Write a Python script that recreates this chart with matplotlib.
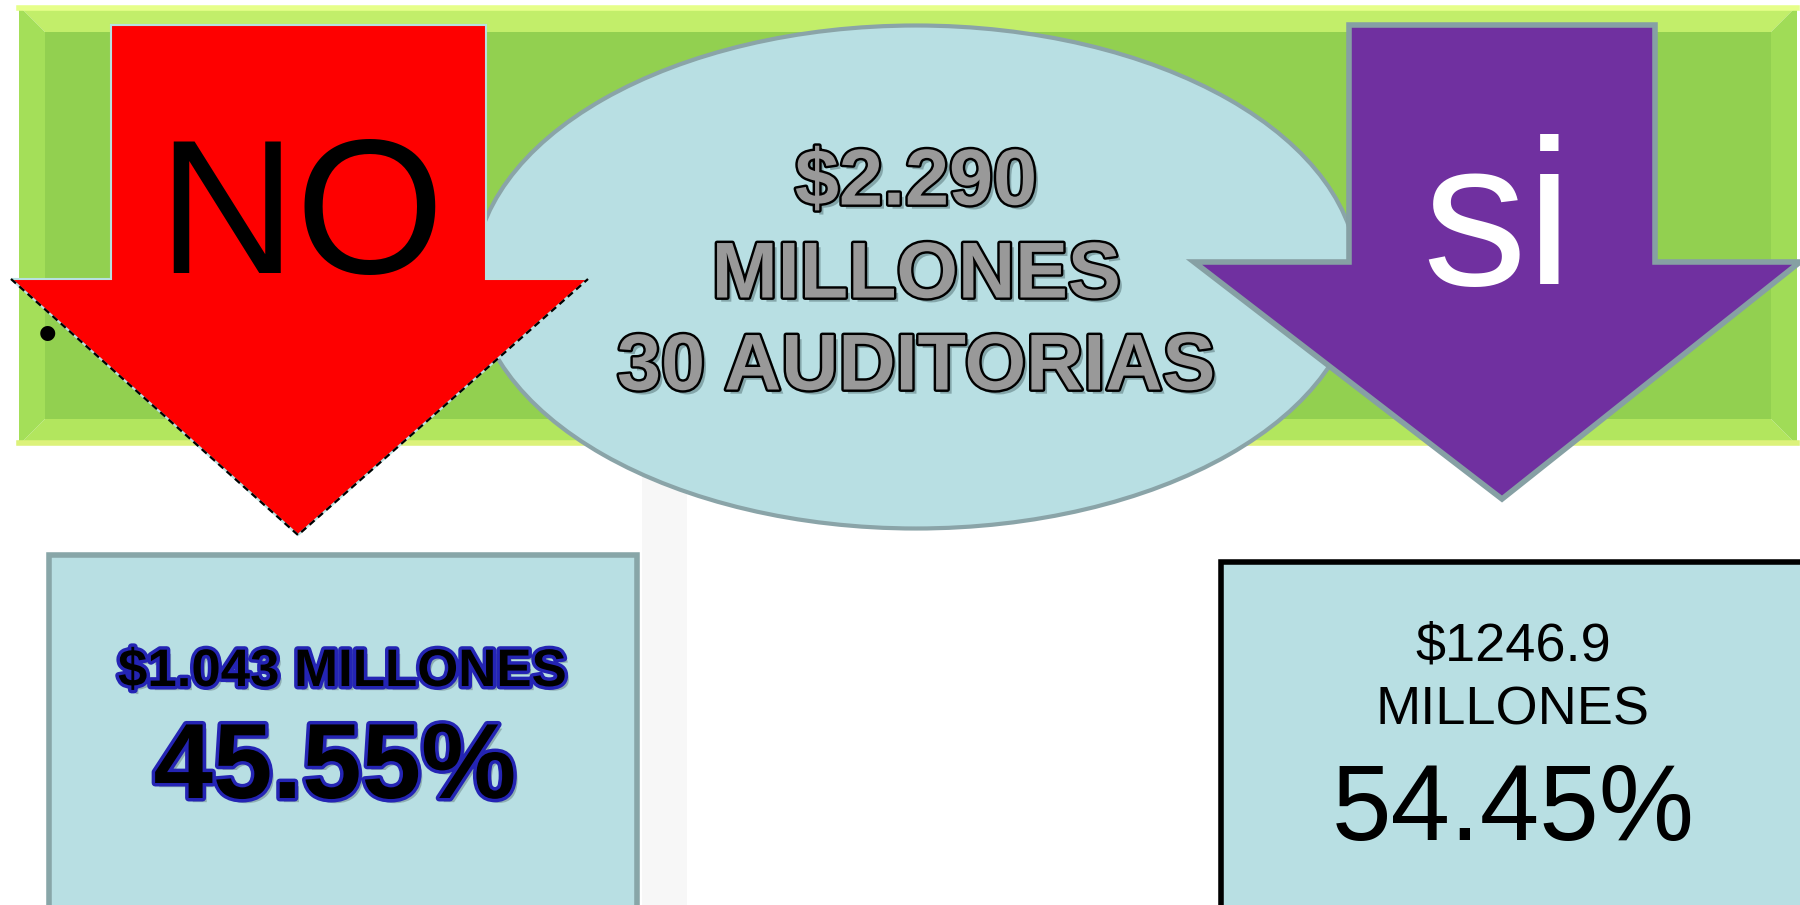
import matplotlib
matplotlib.use("Agg")
import matplotlib.pyplot as plt
from matplotlib.patches import Polygon, Ellipse, Rectangle
import matplotlib.patheffects as pe

plt.rcParams['font.family'] = ['Liberation Sans', 'DejaVu Sans']

# ---- content ----
total_lines = ["$2.290", "MILLONES", "30 AUDITORIAS"]
labels = ["NO", "si"]
no_amount = "$1.043 MILLONES"
no_pct = "45.55%"
si_amount_lines = ["$1246.9", "MILLONES"]
si_pct = "54.45%"

W, H = 1800, 905
fig = plt.figure(figsize=(18, 9.05), dpi=100)
ax = fig.add_axes([0, 0, 1, 1])
ax.set_xlim(0, W)
ax.set_ylim(H, 0)
ax.axis('off')
fig.patch.set_facecolor('white')

# faint shadow on background
ax.add_patch(Rectangle((642, 470), 45, 435, facecolor='#f7f7f7', edgecolor='none', zorder=0))

# ---- green bevel bar ----
x0, x1, y0, y1 = 19, 1797, 6, 445
b = 26
ax.add_patch(Polygon([(x0, y0), (x1, y0), (x1 - b, y0 + b), (x0 + b, y0 + b)],
                     facecolor='#c2ee6a', edgecolor='none', zorder=1))
ax.add_patch(Polygon([(x0, y1), (x1, y1), (x1 - b, y1 - b), (x0 + b, y1 - b)],
                     facecolor='#b2e65e', edgecolor='none', zorder=1))
ax.add_patch(Polygon([(x0, y0), (x0 + b, y0 + b), (x0 + b, y1 - b), (x0, y1)],
                     facecolor='#a4df59', edgecolor='none', zorder=1))
ax.add_patch(Polygon([(x1, y0), (x1 - b, y0 + b), (x1 - b, y1 - b), (x1, y1)],
                     facecolor='#a0dc57', edgecolor='none', zorder=1))
ax.add_patch(Rectangle((x0 + b, y0 + b), x1 - x0 - 2 * b, y1 - y0 - 2 * b,
                       facecolor='#92d050', edgecolor='none', zorder=1))
ax.plot([x0, x1], [y0 + 2, y0 + 2], color='#e6ff8a', lw=4, zorder=1)
ax.plot([x0, x1], [y1 - 2, y1 - 2], color='#dcf27a', lw=4, zorder=1)

# ---- central ellipse ----
ax.add_patch(Ellipse((916, 277), 884, 503, facecolor='#b8dfe3', edgecolor='#8aa4a8',
                     lw=3, zorder=2))

# ---- red arrow (NO) ----
red_pts = [(111, 25), (486, 25), (486, 279), (588, 279), (298, 535), (11, 279), (111, 279)]
ax.add_patch(Polygon(red_pts, closed=True, facecolor='#fe0000', edgecolor='#b8e0e0',
                     lw=1.5, zorder=3))
ax.plot([11, 298, 588], [279, 535, 279], color='black', lw=1.6, ls=(0, (3, 2)), zorder=4)

# bullet
ax.text(48, 338, "•", fontsize=40, ha='center', va='center', color='black', zorder=4)

# ---- purple arrow (si) ----
pur_pts = [(1349, 25), (1655, 25), (1655, 262), (1800, 262), (1502, 499), (1194, 262), (1349, 262)]
ax.add_patch(Polygon(pur_pts, closed=True, facecolor='#7030a0', edgecolor='#86a0a4',
                     lw=4, zorder=3))

ax.text(301, 223, labels[0], fontsize=138, ha='center', va='center', color='black', zorder=5)
ax.text(1498, 231, labels[1], fontsize=150, ha='center', va='center', color='white', zorder=5)

# ---- centre text ----
ctr_fx = [pe.SimplePatchShadow(offset=(3, -3), shadow_rgbFace='#6f8e92', alpha=0.7),
          pe.Stroke(linewidth=3.5, foreground='black'), pe.Normal()]
for txt, yy in zip(total_lines, [184, 277, 369]):
    ax.text(916, yy, txt, fontsize=57, fontweight='bold', ha='center', va='center',
            color='#999999', path_effects=ctr_fx, zorder=5)

# ---- left box ----
ax.add_patch(Rectangle((49, 555), 588, 360, facecolor='#b8dfe3', edgecolor='#88a6a8',
                       lw=4, zorder=2))
blue_fx = [pe.SimplePatchShadow(offset=(3, -3), shadow_rgbFace='#7d9a9e', alpha=0.7),
           pe.Stroke(linewidth=5, foreground='#2424b4'), pe.Normal()]
ax.text(342, 672, no_amount, fontsize=38, fontweight='bold', ha='center', va='center',
        color='black', path_effects=blue_fx, zorder=5)
ax.text(335, 770, no_pct, fontsize=77, fontweight='bold', ha='center', va='center',
        color='black', path_effects=blue_fx, zorder=5)

# ---- right box ----
ax.add_patch(Rectangle((1221, 562), 600, 360, facecolor='#b8dfe3', edgecolor='black',
                       lw=4, zorder=2))
ax.text(1513, 646, si_amount_lines[0], fontsize=39, ha='center', va='center',
        color='black', zorder=5)
ax.text(1513, 710, si_amount_lines[1], fontsize=39, ha='center', va='center',
        color='black', zorder=5)
ax.text(1513, 812, si_pct, fontsize=77, ha='center', va='center', color='black', zorder=5)

fig.savefig("out.png", dpi=100, facecolor='white')
